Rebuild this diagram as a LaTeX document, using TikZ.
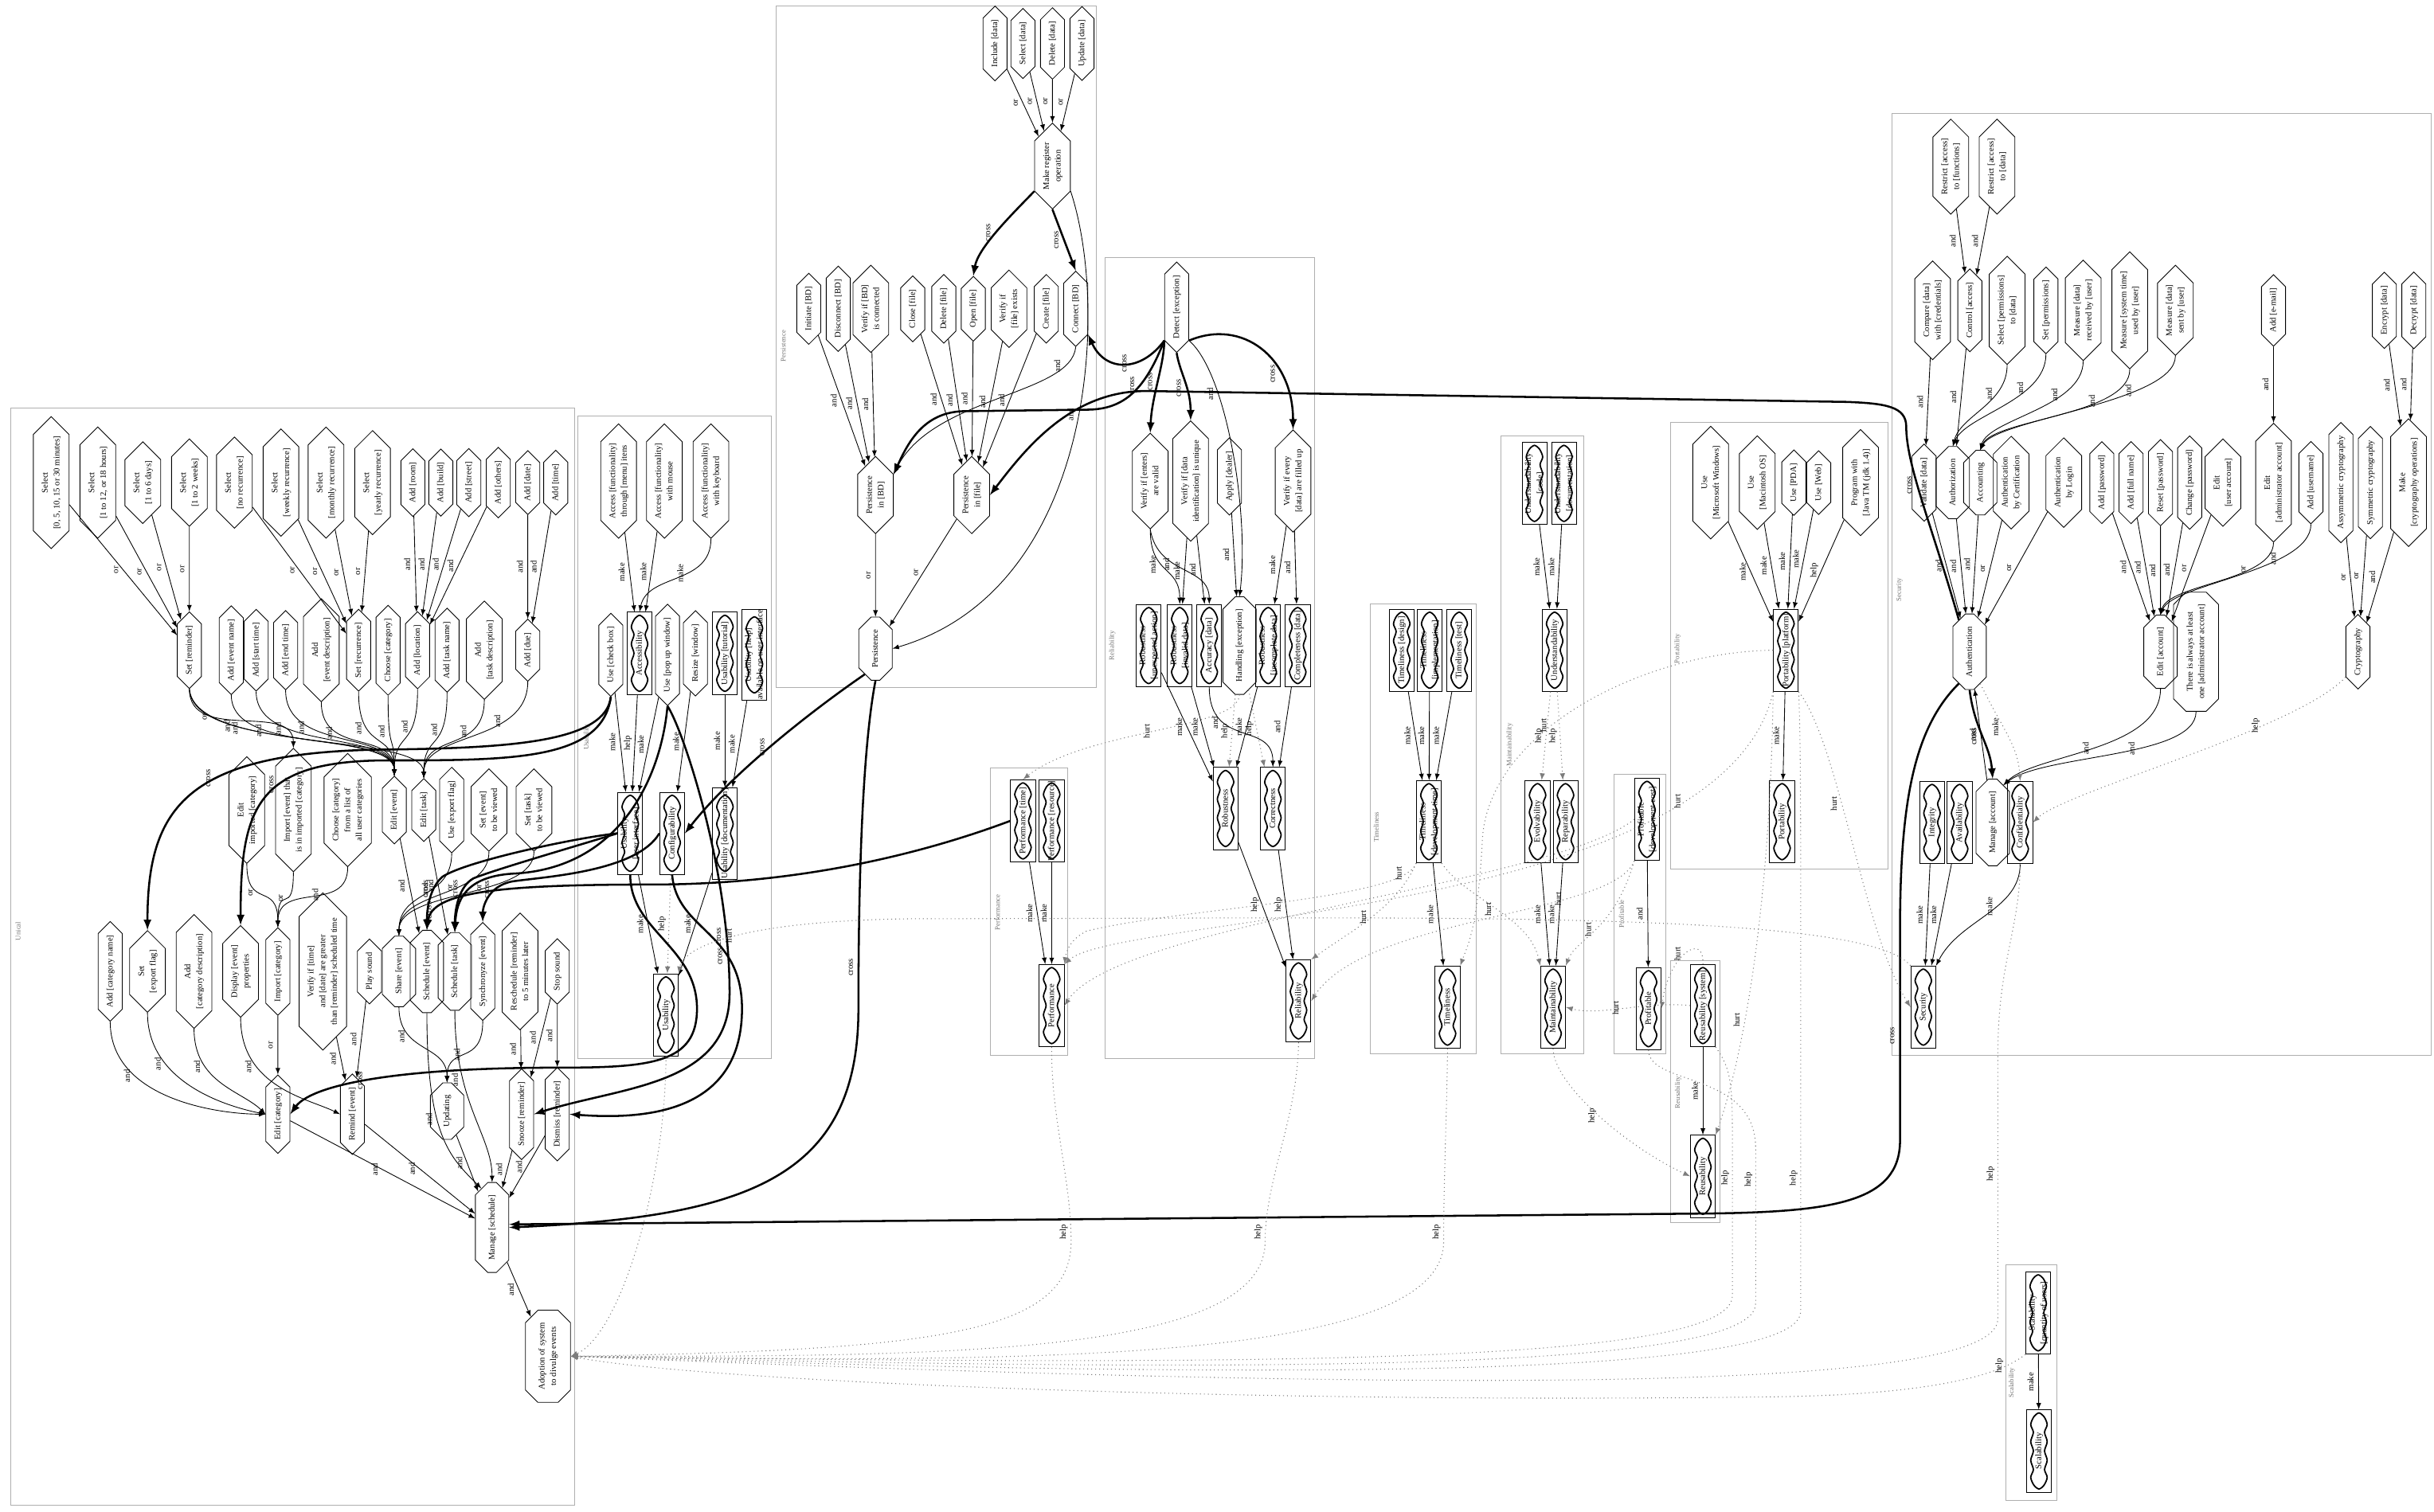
\documentclass[tikz,border=0pt]{standalone}
\usepackage{fontspec}
\setmainfont{Liberation Serif}
\usepackage{graphicx}
\usetikzlibrary{shapes.symbols}
\usetikzlibrary{shapes.misc}
\usetikzlibrary{arrows}
\definecolor{boxgray}{RGB}{175,175,175}
\definecolor{dotgray}{RGB}{125,125,125}

\newcommand{\fs}{\fontsize{5.5}{7.5}\selectfont}
\newcommand{\cfs}{\fontsize{4.5}{5.5}\selectfont}
\newcommand{\rtx}[1]{\rotatebox{90}{\begin{tabular}{@{}c@{}}#1\end{tabular}}}

\tikzset{
  hx/.style={draw, line width=0.45pt, signal, signal to=north and south, signal pointer angle=90, inner xsep=4pt, inner ysep=1pt},
  oc/.style={draw, line width=0.45pt, chamfered rectangle, chamfered rectangle xsep=4pt, chamfered rectangle ysep=4pt, inner xsep=3pt, inner ysep=4pt},
  sg/.style={draw, line width=0.45pt, rectangle, minimum width=16pt, minimum height=53pt, inner sep=0.5pt,
    append after command={\pgfextra{\draw[line width=0.9pt, shift={(\tikzlastnode.center)}] plot[smooth cycle] coordinates {(0,-24.5) (3.3,-22) (5.3,-17) (3.6,-12) (5.3,-6) (3.6,0) (5.3,6) (3.6,12) (5.3,17) (3.3,22) (0,24.5) (-3.3,22) (-5.3,17) (-3.6,12) (-5.3,6) (-3.6,0) (-5.3,-6) (-3.6,-12) (-5.3,-17) (-3.3,-22)};}}},
  clu/.style={draw=boxgray, line width=0.5pt},
  clab/.style={text=black!55, font=\cfs, inner sep=0pt},
  lb/.style={anchor=east, inner sep=0.8pt},
  ed/.style={->, line width=0.45pt},
  xe/.style={->, line width=1.3pt},
  de/.style={->, line width=0.55pt, draw=dotgray, dotted},
}

\begin{document}
\begin{tikzpicture}[x=1pt, y=-1pt, >=latex, font=\fs]
\useasboundingbox (0,0) rectangle (1568,974);

%---------------------------------------
% Unical
%---------------------------------------
\draw[clu] (7,263) rectangle (370,970);
\node[clab] (lunical) at (12,600) {\rtx{Unical}};

% reminder, recurrence and location options
\node[hx] (sel0) at (33,311) {\rtx{Select\\{}[0, 5, 10, 15 or 30 minutes]}};
\node[hx] (sel1) at (63,311) {\rtx{Select\\{}[1 to 12, or 18 hours]}};
\node[hx] (sel2) at (92,311) {\rtx{Select\\{}[1 to 6 days]}};
\node[hx] (sel3) at (122,311) {\rtx{Select\\{}[1 to 2 weeks]}};
\node[hx] (rec0) at (151,311) {\rtx{Select\\{}[no recurrence]}};
\node[hx] (rec1) at (181,311) {\rtx{Select\\{}[weekly recurrence]}};
\node[hx] (rec2) at (210,311) {\rtx{Select\\{}[monthly recurrence]}};
\node[hx] (rec3) at (240,311) {\rtx{Select\\{}[yearly recurrence]}};
\node[hx] (room) at (266,311) {\rtx{Add [room]}};
\node[hx] (build) at (284,311) {\rtx{Add [build]}};
\node[hx] (street) at (302,311) {\rtx{Add [street]}};
\node[hx] (others) at (321,311) {\rtx{Add [others]}};
\node[hx] (date) at (340,311) {\rtx{Add [date]}};
\node[hx] (time) at (358,311) {\rtx{Add [time]}};

% event and task fields
\node[hx] (setrem) at (122,419) {\rtx{Set [reminder]}};
\node[hx] (evname) at (149,419) {\rtx{Add [event name]}};
\node[hx] (evstart) at (165,419) {\rtx{Add [start time]}};
\node[hx] (evend) at (184,419) {\rtx{Add [end time]}};
\node[hx] (evdesc) at (207,419) {\rtx{Add\\{}[event description]}};
\node[hx] (setrec) at (231,419) {\rtx{Set [recurrence]}};
\node[hx] (chcat) at (250,419) {\rtx{Choose [category]}};
\node[hx] (addloc) at (269,419) {\rtx{Add [location]}};
\node[hx] (tkname) at (288,419) {\rtx{Add [task name]}};
\node[hx] (tkdesc) at (312,419) {\rtx{Add\\{}[task description]}};
\node[hx] (adddue) at (340,419) {\rtx{Add [due]}};

\node[hx] (edimp) at (159,522) {\rtx{Edit\\{}imported [category]}};
\node[hx] (impev) at (189,522) {\rtx{Import [event] that\\{}is in imported [category]}};
\node[hx] (chlist) at (224,522) {\rtx{Choose [category]\\{}from a list of\\{}all user categories}};
\node[hx] (edev) at (254,522) {\rtx{Edit [event]}};
\node[hx] (edtk) at (273,522) {\rtx{Edit [task]}};
\node[hx] (useexp) at (291,522) {\rtx{Use [export flag]}};
\node[hx] (setevv) at (315,522) {\rtx{Set [event]\\{}to be viewed}};
\node[hx] (settkv) at (344,522) {\rtx{Set [task]\\{}to be viewed}};

\node[hx] (addcatn) at (71,626) {\rtx{Add [category name]}};
\node[hx] (setexp) at (95,626) {\rtx{Set\\{}[export flag]}};
\node[hx] (addcatd) at (125,626) {\rtx{Add\\{}[category description]}};
\node[hx] (dispev) at (155,626) {\rtx{Display [event]\\{}properties}};
\node[hx] (impcat) at (179,626) {\rtx{Import [category]}};
\node[hx] (vertime) at (208,626) {\rtx{Verify if [time]\\{}and [date] are greater\\{}than [reminder] scheduled time}};
\node[hx] (playsnd) at (238,626) {\rtx{Play sound}};
\node[oc] (shareev) at (257,626) {\rtx{Share [event]}};
\node[oc] (schev) at (275,626) {\rtx{Schedule [event]}};
\node[oc] (schtk) at (293,626) {\rtx{Schedule [task]}};
\node[hx] (syncev) at (311,626) {\rtx{Synchronyze [event]}};
\node[hx] (resched) at (335,626) {\rtx{Reschedule [reminder]\\{}to 5 minutes later}};
\node[hx] (stopsnd) at (359,626) {\rtx{Stop sound}};

\node[hx] (editcat) at (179,718) {\rtx{Edit [category]}};
\node[hx] (remind) at (227,718) {\rtx{Remind [event]}};
\node[oc] (updating) at (288,716) {\rtx{Updating}};
\node[hx] (snooze) at (336,718) {\rtx{Snooze [reminder]}};
\node[hx] (dismiss) at (359,718) {\rtx{Dismiss [reminder]}};
\node[oc] (managesch) at (317,791) {\rtx{Manage [schedule]}};
\node[oc] (adoption) at (353,874) {\rtx{Adoption of system\\{}to divulge events}};

\draw[ed] (sel0) -- node[lb]{\rtx{or}} (setrem);
\draw[ed] (sel1) -- node[lb]{\rtx{or}} (setrem);
\draw[ed] (sel2) -- node[lb]{\rtx{or}} (setrem);
\draw[ed] (sel3) -- node[lb]{\rtx{or}} (setrem);
\draw[ed] (rec0) -- node[lb]{\rtx{or}} (setrec);
\draw[ed] (rec1) -- node[lb]{\rtx{or}} (setrec);
\draw[ed] (rec2) -- node[lb]{\rtx{or}} (setrec);
\draw[ed] (rec3) -- node[lb]{\rtx{or}} (setrec);
\draw[ed] (room) -- node[lb]{\rtx{and}} (addloc);
\draw[ed] (build) -- node[lb]{\rtx{and}} (addloc);
\draw[ed] (street) -- node[lb]{\rtx{and}} (addloc);
\draw[ed] (others) -- node[lb]{\rtx{and}} (addloc);
\draw[ed] (date) -- node[lb]{\rtx{and}} (adddue);
\draw[ed] (time) -- node[lb]{\rtx{and}} (adddue);

\draw[ed] (setrem.south) .. controls +(0,35) and +(0,-30) .. node[lb,pos=0.3]{\rtx{or}} (impev.north);
\draw[ed] (setrem.south) .. controls +(2,40) and +(0,-30) .. node[lb,pos=0.3]{\rtx{and}} (edev.north);
\draw[ed] (setrem.south) .. controls +(4,42) and +(0,-30) .. node[lb,pos=0.3]{\rtx{and}} (edtk.north);
\draw[ed] (evname.south) .. controls +(0,40) and +(0,-30) .. node[lb,pos=0.3]{\rtx{and}} (edev.north);
\draw[ed] (evstart.south) .. controls +(0,40) and +(0,-30) .. node[lb,pos=0.3]{\rtx{and}} (edev.north);
\draw[ed] (evend.south) .. controls +(0,40) and +(0,-30) .. node[lb,pos=0.3]{\rtx{and}} (edev.north);
\draw[ed] (evdesc.south) .. controls +(0,35) and +(0,-30) .. node[lb,pos=0.3]{\rtx{and}} (edev.north);
\draw[ed] (setrec.south) .. controls +(0,40) and +(0,-30) .. node[lb,pos=0.3]{\rtx{and}} (edev.north);
\draw[ed] (chcat.south) .. controls +(0,40) and +(0,-30) .. node[lb,pos=0.3]{\rtx{and}} (edev.north);
\draw[ed] (addloc.south) .. controls +(0,40) and +(0,-30) .. node[lb,pos=0.3]{\rtx{and}} (edev.north);
\draw[ed] (tkname.south) .. controls +(0,40) and +(0,-30) .. node[lb,pos=0.3]{\rtx{and}} (edtk.north);
\draw[ed] (tkdesc.south) .. controls +(0,35) and +(0,-30) .. node[lb,pos=0.3]{\rtx{and}} (edtk.north);
\draw[ed] (adddue.south) .. controls +(0,40) and +(0,-30) .. node[lb,pos=0.3]{\rtx{and}} (edtk.north);

\draw[ed] (edimp.south) .. controls +(0,30) and +(0,-30) .. node[lb,pos=0.4]{\rtx{or}} (impcat.north);
\draw[ed] (impev.south) .. controls +(0,30) and +(0,-30) .. node[lb,pos=0.4]{\rtx{or}} (impcat.north);
\draw[ed] (chlist.south) .. controls +(0,30) and +(0,-30) .. node[lb,pos=0.4]{\rtx{and}} (impcat.north);
\draw[ed] (edev) -- node[lb]{\rtx{and}} (schev);
\draw[ed] (edtk) -- node[lb]{\rtx{and}} (schtk);
\draw[ed] (useexp.south) .. controls +(0,30) and +(0,-30) .. node[lb,pos=0.4]{\rtx{and}} (shareev.north);
\draw[ed] (setevv.south) .. controls +(0,30) and +(0,-30) .. node[lb,pos=0.4]{\rtx{or}} (shareev.north);
\draw[ed] (settkv.south) .. controls +(0,30) and +(0,-30) .. node[lb,pos=0.4]{\rtx{or}} (shareev.north);

\draw[ed] (addcatn.south) .. controls +(0,50) and +(-30,0) .. node[lb,pos=0.3]{\rtx{and}} (editcat.west);
\draw[ed] (setexp.south) .. controls +(0,45) and +(-25,-5) .. node[lb,pos=0.3]{\rtx{and}} (editcat.west);
\draw[ed] (addcatd.south) .. controls +(0,35) and +(-15,-15) .. node[lb,pos=0.3]{\rtx{and}} (editcat.west);
\draw[ed] (dispev.south) .. controls +(0,45) and +(-20,-10) .. node[lb,pos=0.3]{\rtx{and}} (remind.west);
\draw[ed] (impcat) -- node[lb]{\rtx{or}} (editcat);
\draw[ed] (vertime) -- node[lb]{\rtx{and}} (remind);
\draw[ed] (playsnd) -- node[lb]{\rtx{and}} (remind);
\draw[ed] (shareev.south) .. controls +(0,30) and +(0,-25) .. node[lb,pos=0.3]{\rtx{and}} (updating.north);
\draw[ed] (syncev.south) .. controls +(0,30) and +(0,-25) .. node[lb,pos=0.5]{\rtx{and}} (updating.north);
\draw[ed] (schev.south) .. controls +(0,80) and +(-20,-20) .. node[lb,pos=0.4]{\rtx{and}} (managesch.north west);
\draw[ed] (schtk.south) .. controls +(0,60) and +(0,-30) .. node[lb,pos=0.3]{\rtx{and}} (managesch.north);
\draw[ed] (resched) -- node[lb]{\rtx{and}} (snooze);
\draw[ed] (stopsnd) -- node[lb]{\rtx{and}} (snooze);
\draw[ed] (stopsnd) -- node[lb]{\rtx{and}} (dismiss);
\draw[ed] (editcat) -- node[lb]{\rtx{and}} (managesch);
\draw[ed] (remind) -- node[lb]{\rtx{and}} (managesch);
\draw[ed] (updating) -- node[lb]{\rtx{and}} (managesch);
\draw[ed] (snooze) -- node[lb]{\rtx{and}} (managesch);
\draw[ed] (dismiss) -- node[lb]{\rtx{and}} (managesch);
\draw[ed] (managesch) -- node[lb]{\rtx{and}} (adoption);

%---------------------------------------
% Usability
%---------------------------------------
\draw[clu] (372,268) rectangle (497,682);
\node[clab] (lusab) at (378,475) {\rtx{Usability}};

\node[hx] (acc1) at (398.5,310) {\rtx{Access [functionality]\\{}through [menu] itens}};
\node[hx] (acc2) at (428,310) {\rtx{Access [functionality]\\{}with mouse}};
\node[hx] (acc3) at (458,310) {\rtx{Access [functionality]\\{}with keyboard}};
\node[hx] (usecheck) at (393.5,422) {\rtx{Use [check box]}};
\node[sg] (accessib) at (412,421) {\rtx{Accessibility}};
\node[hx] (usepopup) at (430,422) {\rtx{Use [pop up window]}};
\node[hx] (resize) at (448,421) {\rtx{Resize [window]}};
\node[sg] (ututor) at (467,421) {\rtx{Usability [tutorial]}};
\node[sg] (uhelp) at (486,422) {\rtx{Usability [help]\\{}available on user interface}};
\node[sg] (uui) at (406,537) {\rtx{Usability\\{}[user interface]}};
\node[sg] (config) at (433,537) {\rtx{Configurability}};
\node[sg] (udoc) at (467,537) {\rtx{Usability [documentation]}};
\node[sg] (usab) at (429,654) {\rtx{Usability}};

\draw[ed] (acc1) -- node[lb]{\rtx{make}} (accessib);
\draw[ed] (acc2) -- node[lb]{\rtx{make}} (accessib);
\draw[ed] (acc3.south) .. controls +(0,30) and +(5,-25) .. node[lb,pos=0.4]{\rtx{make}} (accessib.north);
\draw[ed] (usecheck) -- node[lb]{\rtx{make}} (uui);
\draw[ed] (accessib) -- node[lb]{\rtx{help}} (uui);
\draw[ed] (usepopup) -- node[lb]{\rtx{make}} (uui);
\draw[ed] (resize) -- node[lb]{\rtx{make}} (config);
\draw[ed] (ututor) -- node[lb]{\rtx{make}} (udoc);
\draw[ed] (uhelp) -- node[lb]{\rtx{make}} (udoc);
\draw[ed] (uui) -- node[lb]{\rtx{make}} (usab);
\draw[de] (config) -- node[lb]{\rtx{help}} (usab);
\draw[ed] (udoc) -- node[lb]{\rtx{make}} (usab);

%---------------------------------------
% Persistence
%---------------------------------------
\draw[clu] (500,4) rectangle (706,443);
\node[clab] (lpers) at (505,223) {\rtx{Persistence}};

\node[hx] (incl) at (641,28) {\rtx{Include [data]}};
\node[hx] (seld) at (659,28) {\rtx{Select [data]}};
\node[hx] (deld) at (678,28) {\rtx{Delete [data]}};
\node[hx] (upd) at (697,28) {\rtx{Update [data]}};
\node[hx] (makereg) at (678,107) {\rtx{Make register\\{}operation}};
\node[hx] (initbd) at (521,199) {\rtx{Initiate [BD]}};
\node[hx] (discbd) at (540,199) {\rtx{Disconnect [BD]}};
\node[hx] (verbd) at (561,199) {\rtx{Verify if [BD]\\{}is connected}};
\node[hx] (closef) at (588,199) {\rtx{Close [file]}};
\node[hx] (delf) at (608,199) {\rtx{Delete [file]}};
\node[hx] (openf) at (627,199) {\rtx{Open [file]}};
\node[hx] (verf) at (650,199) {\rtx{Verify if\\{}[file] exists}};
\node[hx] (createf) at (674,199) {\rtx{Create [file]}};
\node[hx] (connbd) at (693,199) {\rtx{Connect [BD]}};
\node[hx] (persbd) at (564,319) {\rtx{Persistence\\{}in [BD]}};
\node[hx] (persf) at (626,319) {\rtx{Persistence\\{}in [file]}};
\node[oc] (pers) at (564,418) {\rtx{Persistence}};

\draw[ed] (incl) -- node[lb]{\rtx{or}} (makereg);
\draw[ed] (seld) -- node[lb]{\rtx{or}} (makereg);
\draw[ed] (deld) -- node[lb]{\rtx{or}} (makereg);
\draw[ed] (upd) -- node[lb]{\rtx{or}} (makereg);
\draw[xe] (makereg.south west) .. controls (650,140) and (630,160) .. node[lb,pos=0.5]{\rtx{cross}} (openf.north);
\draw[xe] (makereg.south) -- node[lb]{\rtx{cross}} (connbd.north);
\draw[ed] (makereg.south east) .. controls (715,200) and (705,380) .. node[lb,pos=0.45]{\rtx{and}} (pers.east);
\draw[ed] (initbd) -- node[lb]{\rtx{and}} (persbd);
\draw[ed] (discbd) -- node[lb]{\rtx{and}} (persbd);
\draw[ed] (verbd) -- node[lb]{\rtx{and}} (persbd);
\draw[ed] (closef) -- node[lb]{\rtx{and}} (persf);
\draw[ed] (delf) -- node[lb]{\rtx{and}} (persf);
\draw[ed] (openf) -- node[lb]{\rtx{and}} (persf);
\draw[ed] (verf) -- node[lb]{\rtx{and}} (persf);
\draw[ed] (createf) -- node[lb]{\rtx{and}} (persf);
\draw[ed] (connbd.south) .. controls (690,255) and (600,255) .. node[lb,pos=0.15]{\rtx{and}} (persbd.north east);
\draw[ed] (persbd) -- node[lb]{\rtx{or}} (pers);
\draw[ed] (persf) -- node[lb]{\rtx{or}} (pers);

%---------------------------------------
% Reliability
%---------------------------------------
\draw[clu] (712,166) rectangle (847,682);
\node[clab] (lrel) at (716.5,416) {\rtx{Reliability}};

\node[hx] (detect) at (758,198) {\rtx{Detect [exception]}};
\node[hx] (verent) at (741,310) {\rtx{Verify if [enters]\\{}are valid}};
\node[hx] (veruniq) at (767,310) {\rtx{Verify if [data\\{}identification] is unique}};
\node[hx] (applyd) at (792,307) {\rtx{Apply [dealer]}};
\node[hx] (verevery) at (833,310) {\rtx{Verify if every\\{}[data] are filled up}};
\node[sg] (robua) at (740,416) {\rtx{Robustness\\{}[unexpected action]}};
\node[sg] (robinv) at (760,416) {\rtx{Robustness\\{}[invalid data]}};
\node[sg] (accdata) at (779,416) {\rtx{Accuracy [data]}};
\node[oc] (handling) at (798.5,416) {\rtx{Handling [exception]}};
\node[sg] (robinc) at (817,416) {\rtx{Robustness\\{}[incomplete data]}};
\node[sg] (compl) at (836,416) {\rtx{Completeness [data]}};
\node[sg] (robust) at (789.5,521) {\rtx{Robustness}};
\node[sg] (correct) at (820,521) {\rtx{Correctness}};
\node[sg] (reliab) at (836.5,645) {\rtx{Reliability}};

\draw[xe] (detect.south west) .. controls (750,235) and (742,255) .. node[lb,pos=0.5]{\rtx{cross}} (verent.north);
\draw[xe] (detect.south) .. controls (760,240) and (767,250) .. node[lb,pos=0.6]{\rtx{cross}} (veruniq.north);
\draw[xe] (detect.south east) .. controls (800,205) and (833,230) .. node[lb,pos=0.7]{\rtx{cross}} (verevery.north);
\draw[ed] (detect.south east) .. controls (790,240) and (805,330) .. node[lb,pos=0.3]{\rtx{and}} (handling.north);
\draw[xe] (detect.south west) .. controls (735,240) and (712,240) .. node[lb,pos=0.4]{\rtx{cross}} (connbd.south east);
\draw[xe] (detect.south west) .. controls (738,250) and (725,264) .. node[lb,pos=0.4]{\rtx{cross}} (700,264) -- (620,265) .. controls (595,266) and (585,285) .. (persbd.north east);
\draw[ed] (verent.south) .. controls +(0,30) and +(0,-25) .. node[lb,pos=0.4]{\rtx{make}} (robinv.north);
\draw[ed] (verent.south) .. controls +(5,30) and +(0,-25) .. node[lb,pos=0.4]{\rtx{and}} (accdata.north);
\draw[ed] (veruniq) -- node[lb]{\rtx{make}} (robinv);
\draw[ed] (veruniq) -- node[lb]{\rtx{and}} (accdata);
\draw[ed] (applyd) -- node[lb]{\rtx{and}} (handling);
\draw[ed] (verevery) -- node[lb]{\rtx{make}} (robinc);
\draw[ed] (verevery) -- node[lb]{\rtx{and}} (compl);
\draw[ed] (robua) -- node[lb]{\rtx{make}} (robust);
\draw[ed] (robinv) -- node[lb]{\rtx{make}} (robust);
\draw[ed] (accdata.south) .. controls +(0,40) and +(0,-30) .. node[lb,pos=0.3]{\rtx{and}} (correct.north);
\draw[de] (handling) -- node[lb]{\rtx{help}} (robust);
\draw[de] (handling) -- node[lb]{\rtx{help}} (correct);
\draw[ed] (robinc) -- node[lb]{\rtx{make}} (robust);
\draw[ed] (compl) -- node[lb]{\rtx{and}} (correct);
\draw[ed] (robust) -- node[lb]{\rtx{help}} (reliab);
\draw[ed] (correct) -- node[lb]{\rtx{help}} (reliab);

%---------------------------------------
% Performance
%---------------------------------------
\draw[clu] (638,495) rectangle (688,680);
\node[clab] (lperf) at (643,588) {\rtx{Performance}};
\node[sg] (perft) at (659,529) {\rtx{Performance [time]}};
\node[sg] (perfr) at (677.5,529) {\rtx{Performance [resource]}};
\node[sg] (perf) at (677.5,648) {\rtx{Performance}};
\draw[ed] (perft) -- node[lb]{\rtx{make}} (perf);
\draw[ed] (perfr) -- node[lb]{\rtx{make}} (perf);

%---------------------------------------
% Timeliness
%---------------------------------------
\draw[clu] (883,389) rectangle (951,679);
\node[clab] (ltime) at (887,533) {\rtx{Timeliness}};
\node[sg] (tdes) at (903,419) {\rtx{Timeliness [design]}};
\node[sg] (timpl) at (921,419) {\rtx{Timeliness\\{}[implementation]}};
\node[sg] (ttest) at (940,419) {\rtx{Timeliness [test]}};
\node[sg] (tdev) at (920.5,529.5) {\rtx{Timeliness\\{}[development time]}};
\node[sg] (timel) at (932.5,649) {\rtx{Timeliness}};
\draw[ed] (tdes) -- node[lb]{\rtx{make}} (tdev);
\draw[ed] (timpl) -- node[lb]{\rtx{make}} (tdev);
\draw[ed] (ttest) -- node[lb]{\rtx{make}} (tdev);
\draw[ed] (tdev) -- node[lb]{\rtx{make}} (timel);

%---------------------------------------
% Maintainability
%---------------------------------------
\draw[clu] (967,281) rectangle (1020,679);
\node[clab] (lmaint) at (972.6,480) {\rtx{Maintainability}};
\node[sg] (undcode) at (988.5,311.5) {\rtx{Understandability\\{}[code]}};
\node[sg] (unddoc) at (1007.5,311.5) {\rtx{Understandability\\{}[documentation]}};
\node[sg] (und) at (1001.5,419) {\rtx{Understandability}};
\node[sg] (evolv) at (990.5,529.5) {\rtx{Evolvability}};
\node[sg] (repar) at (1008.5,529.5) {\rtx{Reparability}};
\node[sg] (maint) at (1000.5,649) {\rtx{Maintainability}};
\draw[ed] (undcode) -- node[lb]{\rtx{make}} (und);
\draw[ed] (unddoc) -- node[lb]{\rtx{make}} (und);
\draw[de] (und) -- node[lb]{\rtx{help}} (evolv);
\draw[de] (und) -- node[lb]{\rtx{help}} (repar);
\draw[ed] (evolv) -- node[lb]{\rtx{make}} (maint);
\draw[ed] (repar) -- node[lb]{\rtx{make}} (maint);

%---------------------------------------
% Profitable
%---------------------------------------
\draw[clu] (1040,499) rectangle (1073,679);
\node[clab] (lprof) at (1045,589) {\rtx{Profitable}};
\node[sg] (profdc) at (1061,528) {\rtx{Profitable\\{}[development cost]}};
\node[sg] (profit) at (1062,650) {\rtx{Profitable}};
\draw[ed] (profdc) -- node[lb]{\rtx{and}} (profit);

%---------------------------------------
% Portability
%---------------------------------------
\draw[clu] (1076,272) rectangle (1216,560);
\node[clab] (lport) at (1080.7,418) {\rtx{Portability}};
\node[hx] (usewin) at (1102,311) {\rtx{Use\\{}[Microsoft Windows]}};
\node[hx] (usemac) at (1132,311) {\rtx{Use\\{}[Macintosh OS]}};
\node[hx] (usepda) at (1155.6,311) {\rtx{Use [PDA]}};
\node[hx] (useweb) at (1171.6,311) {\rtx{Use [Web]}};
\node[hx] (progjava) at (1198.6,311) {\rtx{Program with\\{}[Java TM (jdk 1.4)]}};
\node[sg] (portplat) at (1150.5,419) {\rtx{Portability [platform]}};
\node[sg] (portab) at (1148,529.5) {\rtx{Portability}};
\draw[ed] (usewin) -- node[lb]{\rtx{make}} (portplat);
\draw[ed] (usemac) -- node[lb]{\rtx{make}} (portplat);
\draw[ed] (usepda) -- node[lb]{\rtx{make}} (portplat);
\draw[ed] (useweb) -- node[lb]{\rtx{make}} (portplat);
\draw[ed] (progjava) -- node[lb]{\rtx{help}} (portplat);
\draw[ed] (portplat) -- node[lb]{\rtx{make}} (portab);

%---------------------------------------
% Security
%---------------------------------------
\draw[clu] (1219,73) rectangle (1566,680);
\node[clab] (lsec) at (1223.5,380) {\rtx{Security}};

\node[hx] (restf) at (1256.7,107.4) {\rtx{Restrict [access]\\{}to [functions]}};
\node[hx] (restd) at (1286.5,107.4) {\rtx{Restrict [access]\\{}to [data]}};
\node[hx] (compare) at (1245,200) {\rtx{Compare [data]\\{}with [credentials]}};
\node[hx] (control) at (1269,200) {\rtx{Control [access]}};
\node[hx] (selperm) at (1293,200) {\rtx{Select [permissions]\\{}to [data]}};
\node[hx] (setperm) at (1318,200) {\rtx{Set [permissions]}};
\node[hx] (measrec) at (1342,200) {\rtx{Measure [data]\\{}received by [user]}};
\node[hx] (meastime) at (1372,200) {\rtx{Measure [system time]\\{}used by [user]}};
\node[hx] (meassent) at (1401.4,200) {\rtx{Measure [data]\\{}sent by [user]}};
\node[hx] (addmail) at (1464.6,200) {\rtx{Add [e-mail]}};
\node[hx] (encrypt) at (1536,200) {\rtx{Encrypt [data]}};
\node[hx] (decrypt) at (1555,200) {\rtx{Decrypt [data]}};

\node[hx] (validate) at (1239.5,311) {\rtx{Validate [data]}};
\node[oc] (authz) at (1258,311) {\rtx{Authorization}};
\node[oc] (accounting) at (1275.7,311) {\rtx{Accounting}};
\node[hx] (authcert) at (1295.6,311) {\rtx{Authentication\\{}by Certification}};
\node[hx] (authlogin) at (1329.5,311) {\rtx{Authentication\\{}by Login}};
\node[hx] (addpass) at (1354,311) {\rtx{Add [password]}};
\node[hx] (addfull) at (1372.8,311) {\rtx{Add [full name]}};
\node[hx] (resetp) at (1391.8,311) {\rtx{Reset [password]}};
\node[hx] (changep) at (1410.6,311) {\rtx{Change [password]}};
\node[hx] (edituser) at (1432,311) {\rtx{Edit\\{}[user account]}};
\node[hx] (editadm) at (1464.6,311) {\rtx{Edit\\{}[administrator account]}};
\node[hx] (addusern) at (1488.7,311) {\rtx{Add [username]}};
\node[hx] (asym) at (1508,311) {\rtx{Assymmetric cryptography}};
\node[hx] (sym) at (1527,311) {\rtx{Symmetric cryptography}};
\node[hx] (makecrypt) at (1551.6,311) {\rtx{Make\\{}[cryptography operations]}};

\node[oc] (authn) at (1268.8,420) {\rtx{Authentication}};
\node[oc] (editacc) at (1391.8,420) {\rtx{Edit [account]}};
\node[oc] (always) at (1414.7,420) {\rtx{There is always at least\\{}one [administrator account]}};
\node[hx] (crypto) at (1519,420) {\rtx{Cryptography}};
\node[sg] (integ) at (1244.6,530) {\rtx{Integrity}};
\node[sg] (avail) at (1262.4,530) {\rtx{Availability}};
\node[oc] (manacc) at (1283.7,530) {\rtx{Manage [account]}};
\node[sg] (confid) at (1301.4,530) {\rtx{Confidentiality}};
\node[sg] (secur) at (1239,649) {\rtx{Security}};

\draw[ed] (restf) -- node[lb]{\rtx{and}} (control);
\draw[ed] (restd) -- node[lb]{\rtx{and}} (control);
\draw[ed] (compare) -- node[lb]{\rtx{and}} (validate);
\draw[ed] (control) -- node[lb]{\rtx{and}} (authz);
\draw[ed] (selperm.south) .. controls +(0,25) and +(5,-20) .. node[lb,pos=0.3]{\rtx{and}} (authz.north);
\draw[ed] (setperm.south) .. controls +(0,30) and +(8,-20) .. node[lb,pos=0.3]{\rtx{and}} (authz.north);
\draw[ed] (measrec.south) .. controls +(0,30) and +(5,-20) .. node[lb,pos=0.3]{\rtx{and}} (accounting.north);
\draw[ed] (meastime.south) .. controls +(0,30) and +(8,-20) .. node[lb,pos=0.3]{\rtx{and}} (accounting.north);
\draw[ed] (meassent.south) .. controls +(0,30) and +(10,-20) .. node[lb,pos=0.3]{\rtx{and}} (accounting.north);
\draw[ed] (addmail) -- node[lb]{\rtx{and}} (editadm);
\draw[ed] (encrypt) -- node[lb]{\rtx{and}} (makecrypt);
\draw[ed] (decrypt) -- node[lb]{\rtx{and}} (makecrypt);
\draw[ed] (validate) -- node[lb]{\rtx{and}} (authn);
\draw[ed] (authz) -- node[lb]{\rtx{and}} (authn);
\draw[ed] (accounting) -- node[lb]{\rtx{and}} (authn);
\draw[ed] (authcert) -- node[lb]{\rtx{or}} (authn);
\draw[ed] (authlogin) -- node[lb]{\rtx{or}} (authn);
\draw[ed] (addpass) -- node[lb]{\rtx{and}} (editacc);
\draw[ed] (addfull) -- node[lb]{\rtx{and}} (editacc);
\draw[ed] (resetp) -- node[lb]{\rtx{and}} (editacc);
\draw[ed] (changep) -- node[lb]{\rtx{and}} (editacc);
\draw[ed] (edituser) -- node[lb]{\rtx{or}} (editacc);
\draw[ed] (editadm.south) .. controls +(0,25) and +(5,-20) .. node[lb,pos=0.3]{\rtx{or}} (editacc.north);
\draw[ed] (addusern.south) .. controls +(0,30) and +(8,-20) .. node[lb,pos=0.3]{\rtx{and}} (editacc.north);
\draw[ed] (asym) -- node[lb]{\rtx{or}} (crypto);
\draw[ed] (sym) -- node[lb]{\rtx{or}} (crypto);
\draw[ed] (makecrypt) -- node[lb]{\rtx{and}} (crypto);
\draw[ed] (manacc) -- node[lb]{\rtx{and}} (authn);
\draw[ed] (editacc.south) .. controls +(0,40) and +(20,-20) .. node[lb,pos=0.5]{\rtx{and}} (manacc.north east);
\draw[ed] (always.south) .. controls +(0,30) and +(25,-20) .. node[lb,pos=0.4]{\rtx{and}} (manacc.north east);
\draw[xe] (authn.south) .. controls (1272,470) and (1282,480) .. node[lb,pos=0.5]{\rtx{cross}} (manacc.north);
\draw[de] (authn.south east) .. controls (1290,470) and (1300,480) .. node[lb,pos=0.4]{\rtx{make}} (confid.north);
\draw[de] (crypto.south west) .. controls (1480,470) and (1330,510) .. node[lb,pos=0.3]{\rtx{help}} (confid.east);
\draw[ed] (integ) -- node[lb]{\rtx{make}} (secur);
\draw[ed] (avail) -- node[lb]{\rtx{make}} (secur);
\draw[ed] (confid.south) .. controls +(0,30) and +(15,-30) .. node[lb,pos=0.4]{\rtx{make}} (secur.north east);

%---------------------------------------
% Reusability and Scalability
%---------------------------------------
\draw[clu] (1076,619) rectangle (1108,788);
\node[clab] (lreus) at (1081,704) {\rtx{Reusability}};
\node[sg] (reusys) at (1097,648) {\rtx{Reusability [system]}};
\node[sg] (reus) at (1097,758) {\rtx{Reusability}};
\draw[ed] (reusys) -- node[lb]{\rtx{make}} (reus);

\draw[clu] (1292,815) rectangle (1325,967);
\node[clab] (lscal) at (1296,891) {\rtx{Scalability}};
\node[sg] (scaleq) at (1313,846) {\rtx{Scalability\\{}[quantity of users]}};
\node[sg] (scal) at (1313.5,935) {\rtx{Scalability}};
\draw[ed] (scaleq) -- node[lb]{\rtx{make}} (scal);

%---------------------------------------
% Crossing goals
%---------------------------------------
\draw[xe] (usecheck.south) .. controls (390,478) and (330,482) .. (250,483) .. controls (120,484) and (95,520) .. node[lb,pos=0.4]{\rtx{cross}} (setexp.north);
\draw[xe] (usecheck.south) .. controls (388,490) and (330,490) .. (250,490) .. controls (165,490) and (155,520) .. node[lb,pos=0.4]{\rtx{cross}} (dispev.north);
\draw[xe] (uui.west) .. controls (370,540) and (300,555) .. (285,565) .. controls (277,572) and (275,585) .. node[lb,pos=0.3]{\rtx{cross}} (schev.north);
\draw[xe] (uui.west) .. controls (372,545) and (320,560) .. (305,566) .. controls (296,571) and (293,585) .. node[lb,pos=0.3]{\rtx{cross}} (schtk.north);
\draw[xe] (usepopup.south) .. controls (426,500) and (400,560) .. (330,563) .. controls (300,565) and (294,580) .. (schtk.north);
\draw[xe] (config.west) .. controls (410,562) and (350,565) .. (330,568) .. controls (314,571) and (311,585) .. node[lb,pos=0.3]{\rtx{cross}} (syncev.north);
\draw[xe] (perft.west) .. controls (600,548) and (520,570) .. (420,570) .. controls (320,570) and (278,575) .. node[lb,pos=0.8]{\rtx{cross}} (schev.north);
\draw[xe] (uui.south) .. controls (406,600) and (449,610) .. (449,650) .. controls (449,685) and (420,688) .. (360,688) .. controls (250,688) and (200,700) .. node[lb,pos=0.5]{\rtx{cross}} (editcat.east);
\draw[xe] (usepopup.south) .. controls (440,470) and (470,560) .. node[lb,pos=0.85]{\rtx{cross}} (470,640) .. controls (470,700) and (400,700) .. (snooze.east);
\draw[xe] (config.south) .. controls (436,600) and (478,600) .. node[lb,pos=0.7]{\rtx{cross}} (478,650) .. controls (478,715) and (420,722) .. (dismiss.east);
\draw[xe] (pers.south west) .. controls (520,460) and (470,500) .. node[lb,pos=0.5]{\rtx{cross}} (config.east);
\draw[xe] (pers.south) .. controls (556,480) and (553,560) .. node[lb,pos=0.9]{\rtx{cross}} (553,650) .. controls (553,760) and (480,784) .. (managesch.east);
\draw[xe] (authn.south west) .. controls (1232,470) and (1224,520) .. (1224,600) -- node[lb]{\rtx{cross}} (1224,735) .. controls (1224,775) and (1180,781) .. (1100,782) -- ([yshift=2pt]managesch.east);
\draw[xe] (authn.north west) .. controls (1245,340) and (1228,300) .. node[lb,pos=0.6]{\rtx{cross}} (1228,275) .. controls (1228,262) and (1215,260) .. (1190,259) -- (740,252) .. controls (690,251) and (660,290) .. (persf.east);

%---------------------------------------
% Contributions between softgoals
%---------------------------------------
\draw[de] (usab.south) .. controls (429,760) and (400,860) .. (adoption.east);
\draw[de] (perf.south) .. controls (677,720) and (690,760) .. node[lb,pos=0.95]{\rtx{help}} (690,800) .. controls (690,860) and (600,870) .. (adoption.east);
\draw[de] (reliab.south) .. controls (836,720) and (815,760) .. node[lb,pos=0.95]{\rtx{help}} (815,800) .. controls (815,875) and (600,874) .. (adoption.east);
\draw[de] (timel.south) .. controls (932,720) and (930,760) .. node[lb,pos=0.95]{\rtx{help}} (930,800) .. controls (930,880) and (650,878) .. (adoption.east);
\draw[de] (reusys.south east) .. controls (1116,690) and (1116,700) .. (1116,740) -- node[lb,pos=0.2]{\rtx{help}} (1116,835) .. controls (1116,880) and (800,880) .. (adoption.east);
\draw[de] (profit.south) .. controls (1062,700) and (1131,690) .. (1131,740) -- node[lb,pos=0.2]{\rtx{help}} (1131,840) .. controls (1131,885) and (800,884) .. (adoption.east);
\draw[de] (portplat.south east) .. controls (1160,480) and (1160,520) .. (1160,600) -- node[lb,pos=0.65]{\rtx{help}} (1160,845) .. controls (1160,890) and (800,888) .. (adoption.east);
\draw[de] (confid.south) .. controls (1301,600) and (1287,620) .. (1287,680) -- node[lb,pos=0.45]{\rtx{help}} (1287,850) .. controls (1287,900) and (900,896) .. (adoption.east);
\draw[de] (scaleq.south west) .. controls (1290,885) and (1250,898) .. node[lb,pos=0.2]{\rtx{help}} (1150,900) .. controls (800,905) and (450,890) .. (adoption.east);
\draw[de] (maint.south) .. controls (1001,700) and (1050,740) .. node[lb,pos=0.5]{\rtx{help}} (reus.west);
\draw[de] (portplat.south west) .. controls (1140,600) and (1120,690) .. node[lb,pos=0.6]{\rtx{hurt}} (reus.north east);

\draw[de] (portplat.west) .. controls (1060,420) and (960,470) .. node[lb,pos=0.6]{\rtx{hurt}} (955,540) .. controls (952,600) and (945,610) .. (timel.north east);
\draw[de] (tdev.south west) .. controls (905,580) and (760,585) .. node[lb,pos=0.1]{\rtx{hurt}} (700,600) .. controls (690,605) and (687,612) .. (perf.north east);
\draw[de] (tdev.south west) .. controls (900,585) and (870,600) .. node[lb,pos=0.5]{\rtx{hurt}} (reliab.north east);
\draw[de] (tdev.south east) .. controls (945,580) and (985,590) .. node[lb,pos=0.5]{\rtx{hurt}} (maint.north west);
\draw[de] (profdc.south west) .. controls (1040,590) and (880,590) .. node[lb,pos=0.3]{\rtx{hurt}} (reliab.east);
\draw[de] (profdc.south west) .. controls (1040,600) and (1015,605) .. node[lb,pos=0.5]{\rtx{hurt}} (maint.north east);
\draw[de] (profdc.west) .. controls (1000,570) and (720,595) .. (perf.east);
\draw[de] (portplat.south west) .. controls (1110,590) and (720,590) .. node[lb,pos=0.2]{\rtx{hurt}} (perf.north east);
\draw[de] (portplat.south east) .. controls (1185,480) and (1200,600) .. node[lb,pos=0.4]{\rtx{hurt}} (secur.west);
\draw[de] (reusys.north) .. controls (1098,600) and (1075,615) .. node[lb,pos=0.5]{\rtx{hurt}} (profit.east);
\draw[de] (reusys.west) .. controls (1060,645) and (1030,655) .. node[lb,pos=0.5]{\rtx{hurt}} (maint.east);
\draw[de] (secur.north west) .. controls (1200,585) and (900,592) .. (600,592) .. controls (480,592) and (440,610) .. node[lb,pos=0.5]{\rtx{hurt}} (usab.north east);
\draw[de] (handling.south) .. controls (798,470) and (700,470) .. node[lb,pos=0.5]{\rtx{hurt}} (perft.north);

\end{tikzpicture}
\end{document}
